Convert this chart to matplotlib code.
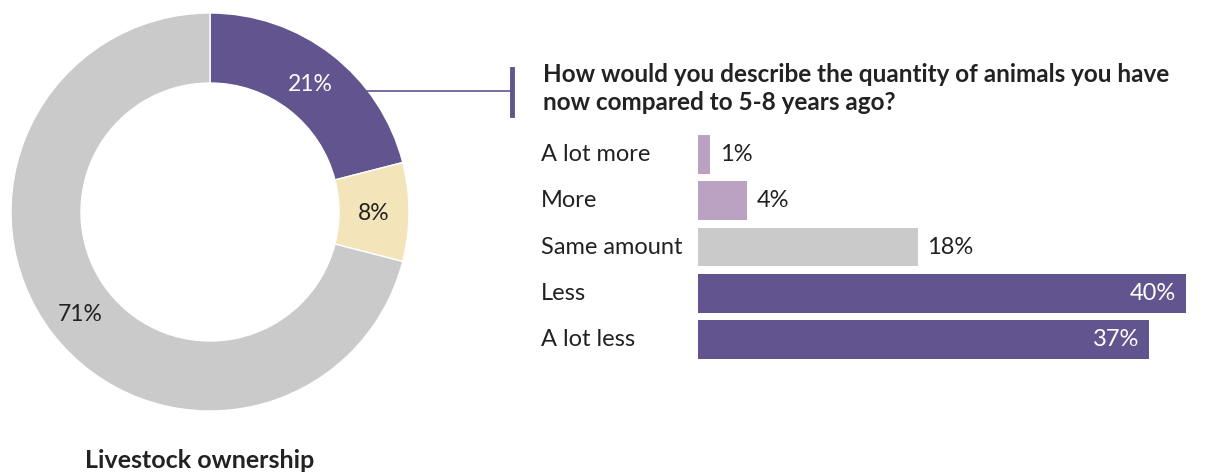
import numpy as np
import matplotlib.pyplot as plt
from matplotlib.lines import Line2D
from matplotlib.transforms import blended_transform_factory

plt.rcParams['font.family'] = ['Lato', 'DejaVu Sans']

# donut data
own_labels = ['Yes', 'Own other', 'No']
own_values = [21, 8, 71]
own_colors = ['#62548f', '#f3e5b9', '#cacaca']
own_text_colors = ['white', '#222222', '#222222']

# bar data
categories = ['A lot more', 'More', 'Same amount', 'Less', 'A lot less']
shares = [1, 4, 18, 40, 37]
bar_colors = ['#bba2c3', '#bba2c3', '#cacaca', '#62548f', '#62548f']
inside = [False, False, False, True, True]

title_lines = ['How would you describe the quantity of animals you have',
               'now compared to 5-8 years ago?']

W, H = 1206, 473
fig = plt.figure(figsize=(W / 100, H / 100), dpi=100)


def px_axes(left, top, width, height):
    return fig.add_axes([left / W, 1 - (top + height) / H, width / W, height / H])


# donut
ax1 = px_axes(10, 12, 400, 400)
wedges, _ = ax1.pie(own_values, colors=own_colors, startangle=90, counterclock=False,
                    radius=0.995, wedgeprops=dict(width=0.35, edgecolor='white', linewidth=1))
for w, v, tc in zip(wedges, own_values, own_text_colors):
    ang = np.deg2rad((w.theta1 + w.theta2) / 2)
    ax1.text(0.82 * np.cos(ang), 0.82 * np.sin(ang), f'{v}%', ha='center', va='center_baseline',
             fontsize=16.5, color=tc)
ax1.set_xlim(-1, 1)
ax1.set_ylim(-1, 1)
ax1.set_aspect('equal')
ax1.axis('off')

fig.text(200 / W, 1 - 460 / H, 'Livestock ownership', ha='center', va='center',
         fontsize=18, fontweight='bold', color='#222222')

# bars
pitch = 46.25
ax2 = px_axes(698, 154.5 - pitch / 2, 488, pitch * 5)
y = np.arange(len(categories))
ax2.barh(y, shares, height=0.84, color=bar_colors)
ax2.set_xlim(0, 40)
ax2.set_ylim(4.5, -0.5)
ax2.axis('off')
for yi, v, ins in zip(y, shares, inside):
    if ins:
        ax2.text(v - 0.8, yi, f'{v}%', ha='right', va='center', fontsize=17, color='white')
    else:
        ax2.text(v + 0.8, yi, f'{v}%', ha='left', va='center', fontsize=17, color='#222222')

tr = blended_transform_factory(fig.transFigure, ax2.transData)
for yi, c in zip(y, categories):
    ax2.text(541 / W, yi, c, transform=tr, ha='left', va='center', fontsize=17, color='#222222')

for i, line in enumerate(title_lines):
    fig.text(543 / W, 1 - (82 + 28 * i) / H, line, ha='left', va='baseline',
             fontsize=17.5, fontweight='bold', color='#222222')

# connector
fig.add_artist(Line2D([343 / W, 512 / W], [1 - 91.5 / H, 1 - 91.5 / H], color='#62548f', lw=1.2))
fig.add_artist(Line2D([512 / W, 512 / W], [1 - 69 / H, 1 - 115 / H], color='#62548f', lw=3.5))

fig.savefig('out.png', dpi=100)
